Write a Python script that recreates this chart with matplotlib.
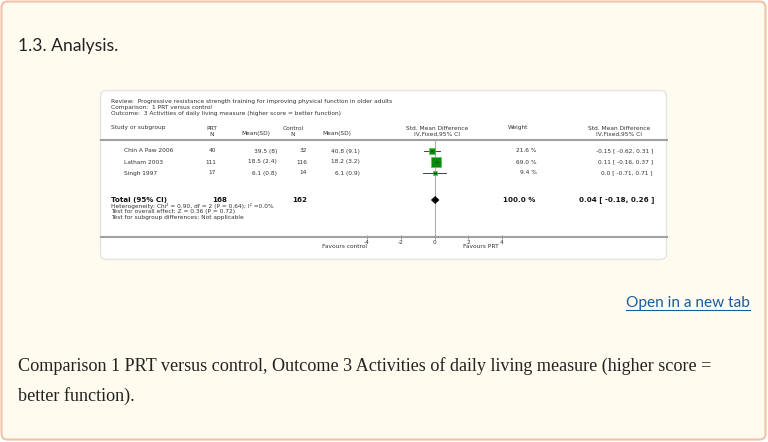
import numpy as np
import matplotlib.pyplot as plt
from matplotlib.patches import FancyBboxPatch, Polygon

# forest plot data
studies = ["Chin A Paw 2006", "Latham 2003", "Singh 1997"]
prt_n = [40, 111, 17]
prt_mean_sd = ["39.5 (8)", "18.5 (2.4)", "6.1 (0.8)"]
ctl_n = [32, 116, 14]
ctl_mean_sd = ["40.8 (9.1)", "18.2 (3.2)", "6.1 (0.9)"]
weights = [21.6, 69.0, 9.4]
smd = [-0.15, 0.11, 0.0]
ci_low = [-0.62, -0.16, -0.71]
ci_high = [0.31, 0.37, 0.71]
total_n = [168, 162]
total_weight = 100.0
total_smd, total_low, total_high = 0.04, -0.18, 0.26
axis_ticks = [-4, -2, 0, 2, 4]

W, H = 768, 442
fig = plt.figure(figsize=(W / 100, H / 100), dpi=100)
fig.patch.set_facecolor("white")

# page layer in pixel coordinates
bg = fig.add_axes([0, 0, 1, 1])
bg.set_xlim(0, W)
bg.set_ylim(H, 0)
bg.axis("off")

bg.add_patch(FancyBboxPatch((1.5, 1.5), W - 4, H - 4, boxstyle="round,pad=0,rounding_size=6",
                            fc="#fffcef", ec="#eec3a6", lw=1.5))
bg.add_patch(FancyBboxPatch((100.5, 90.5), 566, 169, boxstyle="round,pad=0,rounding_size=6",
                            fc="white", ec="#e4e4e4", lw=1))

bg.text(18, 46, "1.3. Analysis.", fontsize=12.6, family="Lato", color="#222222", va="center")
bg.text(750, 303, "Open in a new tab", fontsize=11.05, family="Lato", color="#1a5c9e",
        va="center", ha="right")
bg.plot([626, 750], [310, 310], color="#1a5c9e", lw=0.8)
bg.text(18, 366, "Comparison 1 PRT versus control, Outcome 3 Activities of daily living measure (higher score =",
        fontsize=13.05, family="Liberation Serif", color="#222222", va="center")
bg.text(18, 396, "better function).", fontsize=13.05, family="Liberation Serif", color="#222222", va="center")

fs = 4.2
tc = "#333333"
bg.text(111, 101, "Review:  Progressive resistance strength training for improving physical function in older adults",
        fontsize=fs, color=tc, va="center")
bg.text(111, 107.5, "Comparison:  1 PRT versus control", fontsize=fs, color=tc, va="center")
bg.text(111, 114, "Outcome:  3 Activities of daily living measure (higher score = better function)",
        fontsize=fs, color=tc, va="center")

bg.text(111, 128, "Study or subgroup", fontsize=fs, color=tc, va="center")
bg.text(212, 128, "PRT", fontsize=fs, color=tc, va="center", ha="center")
bg.text(212, 134, "N", fontsize=fs, color=tc, va="center", ha="center")
bg.text(256, 134, "Mean(SD)", fontsize=fs, color=tc, va="center", ha="center")
bg.text(293, 128, "Control", fontsize=fs, color=tc, va="center", ha="center")
bg.text(293, 134, "N", fontsize=fs, color=tc, va="center", ha="center")
bg.text(337, 134, "Mean(SD)", fontsize=fs, color=tc, va="center", ha="center")
bg.text(437, 128, "Std. Mean Difference", fontsize=fs, color=tc, va="center", ha="center")
bg.text(437, 134, "IV,Fixed,95% CI", fontsize=fs, color=tc, va="center", ha="center")
bg.text(518, 128, "Weight", fontsize=fs, color=tc, va="center", ha="center")
bg.text(619, 128, "Std. Mean Difference", fontsize=fs, color=tc, va="center", ha="center")
bg.text(619, 134, "IV,Fixed,95% CI", fontsize=fs, color=tc, va="center", ha="center")
bg.plot([100.5, 666.5], [139.5, 139.5], color="#a0a0a0", lw=1.5)

row_y = [151, 162, 173]
for i, name in enumerate(studies):
    y = row_y[i]
    bg.text(124, y, name, fontsize=fs, color=tc, va="center")
    bg.text(216, y, str(prt_n[i]), fontsize=fs, color=tc, va="center", ha="right")
    bg.text(277, y, prt_mean_sd[i], fontsize=fs, color=tc, va="center", ha="right")
    bg.text(307, y, str(ctl_n[i]), fontsize=fs, color=tc, va="center", ha="right")
    bg.text(360, y, ctl_mean_sd[i], fontsize=fs, color=tc, va="center", ha="right")
    bg.text(537, y, f"{weights[i]:.1f} %", fontsize=fs, color=tc, va="center", ha="right")
    bg.text(653, y, f"{smd[i]} [ {ci_low[i]}, {ci_high[i]} ]", fontsize=fs, color=tc,
            va="center", ha="right")

ty = 200
bg.text(111, ty, "Total (95% CI)", fontsize=5.1, weight="bold", color="#111111", va="center")
bg.text(212, ty, str(total_n[0]), fontsize=5.1, weight="bold", color="#111111", va="center")
bg.text(292, ty, str(total_n[1]), fontsize=5.1, weight="bold", color="#111111", va="center")
bg.text(535, ty, f"{total_weight:.1f} %", fontsize=5.1, weight="bold", color="#111111",
        va="center", ha="right")
bg.text(654, ty, f"{total_smd} [ {total_low}, {total_high} ]", fontsize=5.1, weight="bold",
        color="#111111", va="center", ha="right")
bg.text(111, 206, "Heterogeneity: Chi² = 0.90, df = 2 (P = 0.64); I² =0.0%", fontsize=fs, color=tc, va="center")
bg.text(111, 212, "Test for overall effect: Z = 0.36 (P = 0.72)", fontsize=fs, color=tc, va="center")
bg.text(111, 218, "Test for subgroup differences: Not applicable", fontsize=fs, color=tc, va="center")

bg.text(367, 247, "Favours control", fontsize=fs, color=tc, va="center", ha="right")
bg.text(463, 247, "Favours PRT", fontsize=fs, color=tc, va="center", ha="left")

# forest panel: x in SMD units, y in rows
px_per_unit = 16.85
zero_px = 434.5
ax = fig.add_axes([100.5 / W, 1 - 237 / H, 566 / W, 97 / H])
ax.set_xlim((100.5 - zero_px) / px_per_unit, (666.5 - zero_px) / px_per_unit)
row_px = 11.0
ax.set_ylim(97 / row_px, 0)
ax.patch.set_alpha(0)
for s in ["top", "left", "right"]:
    ax.spines[s].set_visible(False)
ax.spines["bottom"].set_color("#a0a0a0")
ax.spines["bottom"].set_linewidth(1.5)
ax.set_yticks([])
ax.set_xticks(axis_ticks)
ax.set_xticklabels([str(t) for t in axis_ticks])
ax.tick_params(axis="x", direction="inout", length=3, width=0.6, color="#777777",
               labelsize=fs, labelcolor=tc, pad=0.5)

ax.axvline(0, color="#b0b0b0", lw=0.8, zorder=1)
rows = np.array(row_y) - 140
rows = rows / row_px
for i in range(len(studies)):
    ax.plot([ci_low[i], ci_high[i]], [rows[i], rows[i]], color="#222222", lw=0.6, zorder=2)
    ax.plot(smd[i], rows[i], marker="s", ms=7.2 * np.sqrt(weights[i] / 69.0),
            mfc="#0a8a0a", mec="#5cbf5c", mew=0.5, zorder=3)
    ax.plot([smd[i] - 0.08, smd[i] + 0.08], [rows[i], rows[i]], color="#222222", lw=0.4, zorder=4)

ry = (ty - 140) / row_px
dh = 3.5 / row_px
ax.add_patch(Polygon([[total_low, ry], [total_smd, ry - dh], [total_high, ry], [total_smd, ry + dh]],
                     closed=True, fc="black", ec="black", lw=0.5, zorder=3))

fig.savefig("out.png", dpi=100)
